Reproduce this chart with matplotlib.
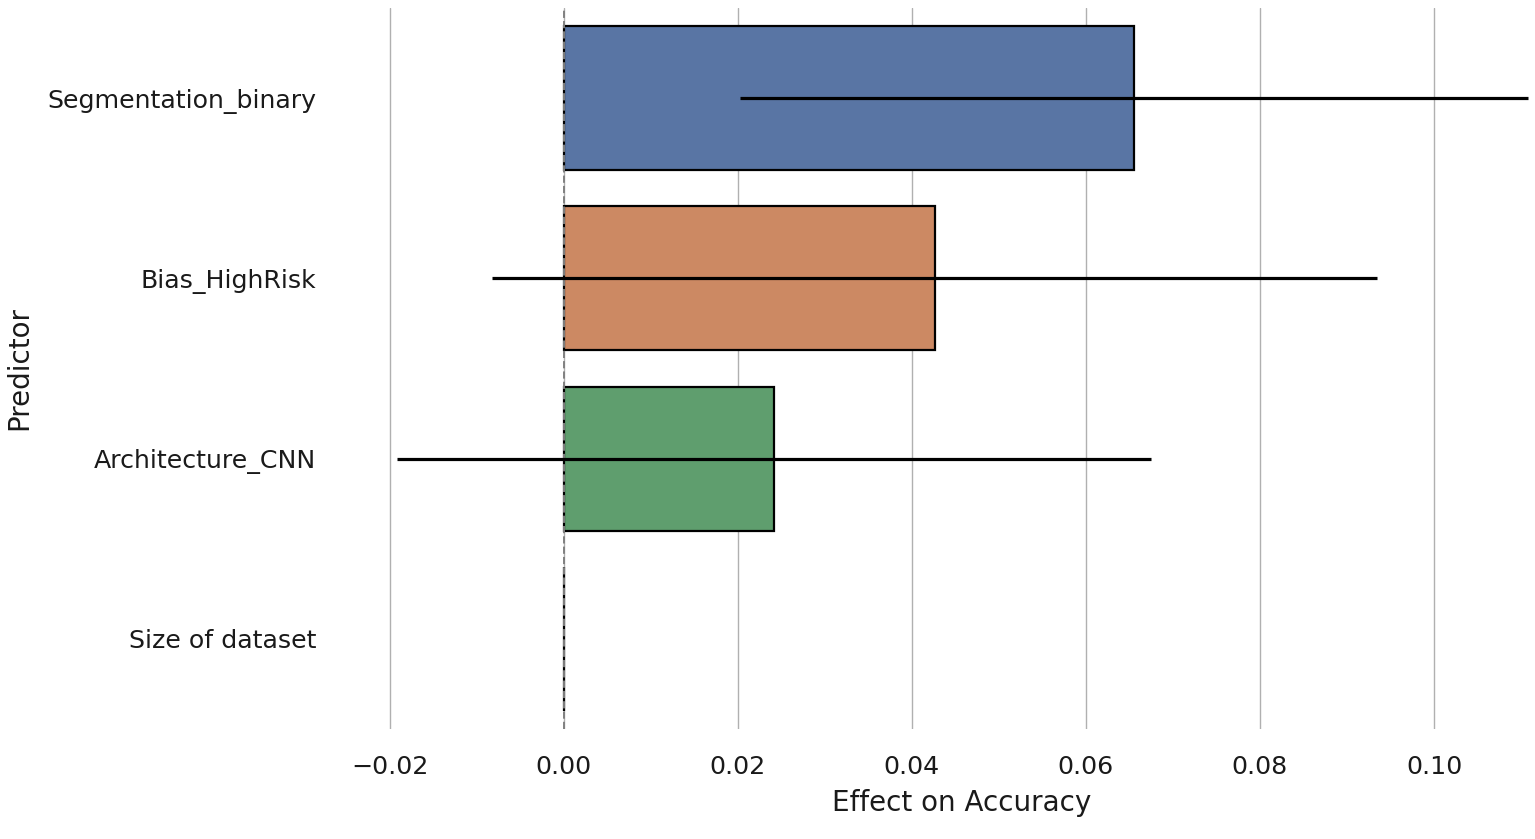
import matplotlib
matplotlib.use("Agg")
import matplotlib.pyplot as plt
import seaborn as sns

# Data
predictors = ["Segmentation_binary", "Bias_HighRisk", "Architecture_CNN", "Size of dataset"]
effects = [0.0655, 0.0427, 0.0242, 0.0]
ci_low = [0.0203, -0.0082, -0.0192, 0.0]
ci_high = [0.1108, 0.0934, 0.0675, 0.0]

sns.set_style("whitegrid")
plt.rcParams["font.family"] = ["DejaVu Sans"]

palette = sns.color_palette("deep")
colors = [sns.desaturate(c, 0.75) for c in palette[:len(predictors)]]

fig = plt.figure(figsize=(15.35, 8.39), dpi=100)
ax = fig.add_axes([340 / 1535, 1 - 729 / 839, (1535 - 340) / 1535, (729 - 8) / 839])

ypos = list(range(len(predictors)))
ax.barh(ypos, effects, height=0.8, color=colors, edgecolor="black",
        linewidth=1.6, zorder=2)

xerr_lo = [e - lo for e, lo in zip(effects, ci_low)]
xerr_hi = [hi - e for e, hi in zip(effects, ci_high)]
ax.errorbar(effects, ypos, xerr=[xerr_lo, xerr_hi], fmt="none",
            ecolor="black", elinewidth=2.3, capsize=0, zorder=4)

ax.axvline(0, color="grey", linestyle="--", linewidth=1.4, zorder=3)

ax.set_xlim(-0.0257, 0.1116)
ax.set_ylim(3.5, -0.5)
ax.set_yticks(ypos)
ax.set_yticklabels(predictors)
ax.set_xticks([-0.02, 0.0, 0.02, 0.04, 0.06, 0.08, 0.10])
ax.set_xticklabels(["\u22120.02", "0.00", "0.02", "0.04", "0.06", "0.08", "0.10"])
ax.grid(axis="y", visible=False)
ax.grid(axis="x", color="#b0b0b0", linewidth=1.0)
for s in ax.spines.values():
    s.set_visible(False)

fs = 18.2
ax.tick_params(axis="both", labelsize=fs, colors="#1a1a1a", length=0)
ax.tick_params(axis="y", pad=17)
ax.tick_params(axis="x", pad=19)
ax.set_xlabel("Effect on Accuracy", fontsize=20, color="#1a1a1a", labelpad=7)
ax.xaxis.label.set_x((962 - 340) / 1195)
ax.set_ylabel("Predictor", fontsize=20, color="#1a1a1a", labelpad=10)

fig.savefig("out.png", dpi=100)
